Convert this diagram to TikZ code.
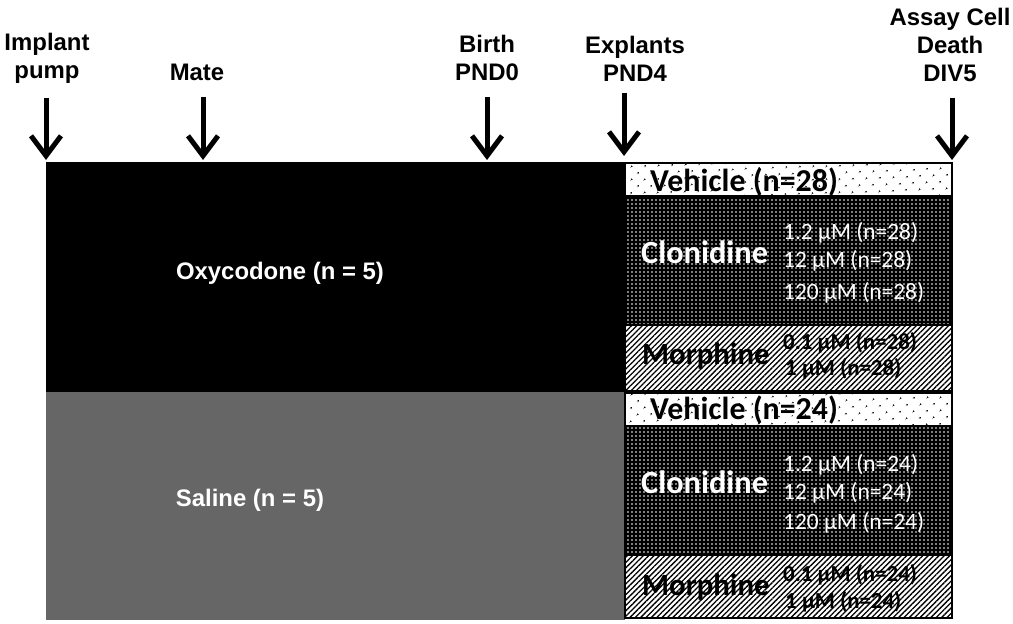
\documentclass[tikz,border=0pt]{standalone}
\usepackage{fontspec}
\setmainfont{Liberation Sans}
\newfontfamily\calfont{Carlito}
\usetikzlibrary{arrows.meta,patterns.meta}
\definecolor{salgray}{HTML}{666666}
\tikzset{
  lbl/.style={font=\fontsize{24}{28}\selectfont\bfseries, align=center, inner sep=0pt},
  tarrow/.style={line width=5bp, -{Straight Barb[length=20bp,width=30bp]}},
  bigbox/.style={anchor=north west, inner sep=0pt, outer sep=0pt},
  grptext/.style={font=\fontsize{24}{28}\selectfont\bfseries, text=white, inner sep=0pt},
  vehbox/.style={anchor=north west, draw=black, line width=1.5bp, inner sep=0pt, outer sep=0pt, minimum width=327bp,
     preaction={fill=white}, pattern={Dots[distance=9.5bp, angle=45, radius=1bp]}, pattern color=black},
  clobox/.style={anchor=north west, draw=black, line width=1.5bp, inner sep=0pt, outer sep=0pt, minimum width=327bp,
     preaction={fill=black}, pattern={Dots[distance=4bp, radius=0.8bp]}, pattern color=white},
  morbox/.style={anchor=north west, draw=black, line width=1.5bp, inner sep=0pt, outer sep=0pt, minimum width=327bp,
     preaction={fill=white}, pattern={Lines[angle=45, distance=3.8bp, line width=1.3bp]}, pattern color=black},
  vehtext/.style={font=\calfont\fontsize{32}{33}\selectfont\bfseries, anchor=west, inner sep=0pt},
  drugw/.style={font=\calfont\fontsize{32.5}{33}\selectfont\bfseries, text=white, anchor=west, inner sep=0pt},
  drugb/.style={font=\calfont\fontsize{31}{32}\selectfont\bfseries, text=black, anchor=west, inner sep=0pt},
  dosew/.style={font=\calfont\fontsize{23.5}{24}\selectfont, text=white, anchor=west, inner sep=0pt},
  doseb/.style={font=\calfont\fontsize{23}{24}\selectfont\bfseries, text=black, anchor=west, inner sep=0pt},
}
\begin{document}
\begin{tikzpicture}[x=1bp,y=-1bp]
\useasboundingbox (0,0) rectangle (1013,624);
% group boxes
\node[bigbox, fill=black, minimum width=579bp, minimum height=230bp] (oxy) at (46,162) {};
\node[bigbox, fill=salgray, minimum width=579bp, minimum height=228bp] (sal) at (46,392) {};
\node[grptext] (oxyt) at (280,273) {Oxycodone (n = 5)};
\node[grptext] (salt) at (250,500) {Saline (n = 5)};
% top treatment panel
\node[vehbox, minimum height=33bp] (veh1) at (625,163) {};
\node[clobox, minimum height=129bp] (clo1) at (625,196) {};
\node[morbox, minimum height=66bp] (mor1) at (625,325) {};
\node[vehtext] (veh1t) at (650,182) {Vehicle (n=28)};
\node[drugw] (clo1t) at (641,252) {Clonidine};
\node[dosew] (c1a) at (783,233) {1.2 µM (n=28)};
\node[dosew] (c1b) at (783,261) {12 µM (n=28)};
\node[dosew] (c1c) at (783,293) {120 µM  (n=28)};
\node[drugb] (mor1t) at (642,356) {Morphine};
\node[doseb] (m1a) at (783,343) {0.1 µM (n=28)};
\node[doseb] (m1b) at (785,369) {1 µM (n=28)};
% bottom treatment panel
\node[vehbox, minimum height=33bp] (veh2) at (625,393) {};
\node[clobox, minimum height=129bp] (clo2) at (625,426) {};
\node[morbox, minimum height=63bp] (mor2) at (625,555) {};
\node[vehtext] (veh2t) at (650,410) {Vehicle (n=24)};
\node[drugw] (clo2t) at (641,482) {Clonidine};
\node[dosew] (c2a) at (783,465) {1.2 µM (n=24)};
\node[dosew] (c2b) at (783,493) {12 µM (n=24)};
\node[dosew] (c2c) at (783,523) {120 µM  (n=24)};
\node[drugb] (mor2t) at (642,587) {Morphine};
\node[doseb] (m2a) at (783,575) {0.1 µM (n=24)};
\node[doseb] (m2b) at (785,602) {1 µM (n=24)};
% timeline labels
\node[lbl] (implant) at (47,58) {Implant\\pump};
\node[lbl] (mate) at (197,72) {Mate};
\node[lbl] (birth) at (487,58) {Birth\\PND0};
\node[lbl] (explants) at (635,59) {Explants\\PND4};
\node[lbl] (assay) at (950,45) {Assay Cell\\Death\\DIV5};
% arrow coordinates
\coordinate (a1s) at (46,98);  \coordinate (a1e) at (46,160);
\coordinate (a2s) at (203,97); \coordinate (a2e) at (203,160);
\coordinate (a3s) at (487,97); \coordinate (a3e) at (487,160);
\coordinate (a4s) at (624,93); \coordinate (a4e) at (624,156);
\coordinate (a5s) at (952,98); \coordinate (a5e) at (952,160);
\draw[tarrow] (a1s) -- (a1e);
\draw[tarrow] (a2s) -- (a2e);
\draw[tarrow] (a3s) -- (a3e);
\draw[tarrow] (a4s) -- (a4e);
\draw[tarrow] (a5s) -- (a5e);
\end{tikzpicture}
\end{document}
